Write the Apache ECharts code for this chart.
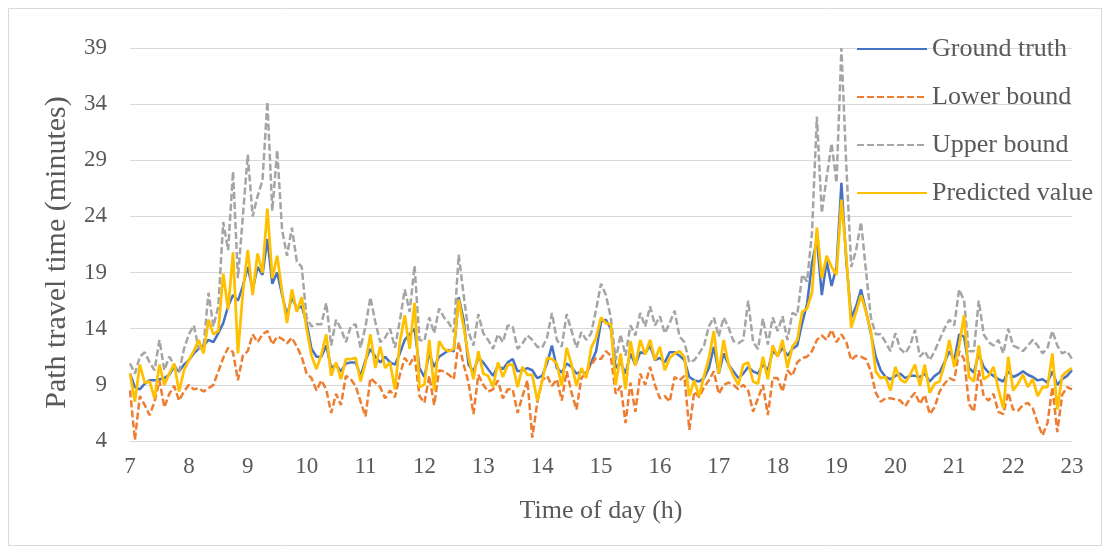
<!DOCTYPE html>
<html>
<head>
<meta charset="utf-8">
<title>Path travel time</title>
<script src="https://cdn.jsdelivr.net/npm/echarts@6/dist/echarts.min.js"></script>
<style>
  html, body { margin: 0; padding: 0; background: #fff; }
  #chart { width: 1110px; height: 554px; }
</style>
</head>
<body>
<div id="chart"></div>
<script>
// 5-minute samples from 7:00 to 23:00, one row per hour
const groundTruth = [
  10.0, 8.8, 8.6, 9.1, 9.4, 9.4, 9.5, 9.6, 9.9, 10.6, 10.2, 10.8,
  11.2, 11.8, 12.2, 12.5, 13.0, 12.8, 13.6, 14.5, 16.0, 17.0, 16.5, 17.8,
  19.5, 17.5, 19.5, 18.8, 22.0, 18.0, 19.0, 17.0, 15.2, 16.8, 15.8, 16.0,
  14.5, 12.2, 11.5, 11.5, 12.5, 10.5, 10.8, 10.2, 10.9, 11.0, 11.0, 9.8,
  11.2, 12.2, 11.5, 11.0, 11.5, 11.0, 10.8, 11.8, 13.0, 13.5, 14.0, 10.5,
  9.7, 11.8, 10.6, 11.5, 11.8, 12.1, 12.0, 16.8, 14.8, 10.8, 10.2, 11.4,
  11.0, 10.4, 9.8, 10.7, 10.4, 11.0, 11.3, 10.2, 10.3, 10.5, 10.3, 9.6,
  9.8, 10.9, 12.5, 10.5, 10.1, 10.9, 10.6, 10.0, 10.2, 10.0, 11.0, 12.0,
  14.6, 14.8, 14.0, 10.5, 11.0, 10.0, 11.8, 10.8, 11.9, 11.8, 12.5, 11.2,
  11.4, 11.0, 11.9, 11.9, 11.6, 11.2, 9.7, 9.4, 9.3, 9.6, 10.5, 12.4,
  10.0, 11.8, 10.8, 10.2, 9.6, 10.0, 10.6, 10.2, 10.0, 10.8, 10.3, 12.0,
  11.6, 12.3, 11.6, 12.2, 12.5, 14.5, 16.2, 19.8, 22.0, 17.0, 20.0, 17.8,
  19.5, 27.0, 20.0, 15.0, 16.0, 17.5, 15.6, 13.6, 11.5, 10.3, 9.7, 9.5,
  9.8, 10.0, 9.6, 9.8, 9.8, 9.7, 10.0, 9.3, 9.8, 10.1, 11.0, 12.0,
  11.2, 13.5, 13.3, 10.5, 10.1, 11.8, 10.6, 10.1, 9.8, 9.5, 9.3, 10.2,
  9.7, 9.9, 10.2, 9.9, 9.7, 9.4, 9.5, 9.2, 10.2, 9.0, 9.5, 9.8,
  10.3
];
const lowerBound = [
  8.5, 4.1, 8.0, 7.2, 6.3, 7.5, 9.4, 7.0, 8.2, 8.9, 7.6, 8.4,
  9.0, 8.6, 8.7, 8.4, 8.7, 9.0, 10.2, 11.4, 12.3, 11.9, 9.4, 11.6,
  12.0, 13.5, 12.8, 13.5, 13.8, 12.6, 13.3, 13.1, 12.7, 13.2, 12.4, 11.5,
  10.0, 9.6, 8.5, 9.4, 8.6, 6.5, 8.2, 7.2, 9.8, 9.5, 8.9, 7.5,
  6.2, 9.6, 9.2, 8.8, 7.8, 8.5, 7.9, 9.9, 11.4, 10.8, 11.6, 8.0,
  7.4, 9.8, 7.2, 10.3, 10.2, 9.9, 9.5, 12.8, 10.8, 9.2, 6.4, 9.9,
  9.0, 8.4, 8.6, 9.4, 7.8, 8.6, 8.6, 6.5, 8.0, 9.4, 4.3, 7.4,
  9.4, 9.8, 8.9, 9.5, 7.6, 10.2, 8.3, 6.8, 9.6, 10.1, 10.8, 11.4,
  11.3, 12.0, 11.6, 8.2, 8.9, 5.6, 9.2, 6.6, 10.0, 9.0, 10.6, 9.0,
  7.8, 8.0, 7.5, 9.7, 9.4, 9.8, 5.0, 8.4, 7.9, 8.8, 9.4, 10.2,
  8.2, 9.0, 9.2, 9.0, 8.6, 9.0, 8.5, 6.6, 7.8, 9.0, 6.3, 9.6,
  9.6, 8.4, 10.3, 9.8, 11.0, 11.4, 11.5, 12.0, 13.0, 13.4, 13.0, 13.9,
  12.8, 13.5, 12.8, 11.2, 11.6, 11.5, 11.3, 10.2, 8.3, 7.5, 7.8, 7.8,
  7.7, 7.6, 7.1, 7.8, 8.3, 7.3, 8.1, 6.4, 7.0, 8.4, 9.1, 9.6,
  9.4, 12.0, 11.3, 7.3, 6.6, 10.3, 8.0, 7.6, 8.2, 6.6, 6.4, 8.3,
  6.8, 6.7, 7.2, 7.4, 6.9, 5.6, 4.5, 5.6, 8.8, 4.8, 8.1, 8.8,
  8.6
];
const upperBound = [
  10.9, 10.0, 11.5, 11.9, 11.0, 10.3, 13.0, 10.3, 11.5, 10.8, 10.1, 12.2,
  13.5, 14.3, 12.2, 12.5, 17.2, 14.2, 16.0, 23.5, 21.0, 28.0, 18.5, 24.0,
  29.5, 24.0, 25.8, 27.2, 34.2, 24.5, 29.9, 22.8, 20.5, 23.0, 20.0, 19.5,
  15.0, 14.2, 14.4, 14.4, 16.3, 12.5, 14.8, 14.0, 12.8, 14.2, 14.4, 12.3,
  14.2, 16.8, 14.6, 12.8, 13.2, 14.0, 12.3, 14.7, 17.5, 15.5, 19.6, 13.0,
  12.9, 15.0, 13.6, 15.8, 15.0, 14.5, 13.7, 20.6, 17.0, 13.7, 12.5, 15.3,
  13.6, 13.0, 12.2, 13.5, 12.8, 14.3, 14.2, 12.2, 12.7, 13.4, 13.0, 12.4,
  12.3, 13.2, 15.4, 13.0, 12.4, 15.3, 13.8, 12.3, 13.7, 13.0, 13.6, 15.7,
  18.0, 17.0, 15.0, 11.2, 13.5, 11.6, 14.3, 13.4, 15.4, 14.2, 16.0, 14.3,
  15.1, 13.6, 14.5, 15.6, 13.3, 12.8, 11.0, 11.2, 11.8, 12.5, 14.2, 15.0,
  13.3, 15.0, 14.1, 12.9, 12.7, 13.0, 16.5, 12.8, 12.2, 14.9, 12.6, 15.0,
  13.8, 15.1, 13.0, 15.4, 15.2, 18.8, 18.2, 22.5, 32.9, 24.3, 27.5, 30.5,
  27.0, 39.0, 28.5, 19.5, 21.0, 23.5, 19.2, 15.0, 13.5, 13.5, 12.8, 12.0,
  13.6, 12.2, 11.8, 12.5, 13.9, 11.5, 12.0, 11.2, 12.0, 13.0, 14.0, 14.8,
  14.3, 17.5, 16.5, 12.0, 12.0, 16.5, 13.5, 12.8, 12.5, 13.0, 11.8, 14.0,
  12.5, 12.3, 12.0, 12.5, 13.0, 12.5, 11.8, 12.3, 13.8, 12.5, 11.8, 12.0,
  11.3
];
const predicted = [
  10.0, 7.5, 10.8, 9.2, 9.3, 7.8, 10.8, 9.0, 10.0, 10.9, 8.4, 10.3,
  11.2, 12.0, 13.0, 11.8, 14.8, 13.5, 13.8, 18.9, 15.7, 20.8, 11.8, 17.2,
  21.0, 17.0, 20.7, 19.0, 24.7, 18.5, 20.5, 17.3, 14.5, 17.5, 15.5, 16.8,
  14.0, 11.6, 10.4, 11.7, 13.5, 9.8, 11.0, 9.5, 11.3, 11.3, 11.4, 9.3,
  11.0, 13.5, 10.5, 12.4, 10.5, 11.0, 8.6, 12.8, 15.2, 12.2, 16.3, 8.8,
  9.0, 13.0, 8.5, 12.9, 12.2, 12.0, 12.2, 16.6, 14.2, 11.5, 9.5, 12.0,
  10.0, 9.8, 8.8, 11.0, 9.7, 10.8, 10.8, 8.8, 10.6, 9.9, 9.9, 7.6,
  9.3, 11.4, 11.3, 10.9, 8.9, 12.3, 10.8, 8.9, 10.5, 9.6, 12.3, 13.2,
  15.0, 14.5, 14.4, 9.0, 11.8, 8.6, 12.9, 10.7, 13.0, 11.7, 13.0, 11.2,
  12.4, 10.3, 11.4, 11.8, 12.0, 11.5, 8.0, 9.4, 8.0, 9.8, 11.4, 13.8,
  10.0, 13.0, 10.8, 9.8, 9.0, 10.8, 11.0, 9.3, 9.1, 11.5, 9.5, 12.5,
  11.5, 13.0, 10.5, 12.4, 13.0, 15.5, 15.8, 17.2, 23.0, 18.5, 20.5, 19.5,
  18.8, 25.5, 20.5, 14.1, 15.5, 17.0, 15.5, 13.8, 10.2, 9.6, 9.7, 8.5,
  10.6, 9.5, 9.2, 9.9, 10.8, 8.9, 10.8, 8.3, 9.1, 9.3, 10.8, 13.0,
  10.6, 12.5, 15.2, 9.7, 9.3, 12.5, 9.5, 9.8, 10.6, 8.6, 6.9, 11.5,
  8.5, 9.1, 9.9, 8.8, 9.5, 8.0, 8.8, 8.8, 11.8, 6.8, 9.8, 10.2,
  10.5
];

const startHour = 7;
const stepHours = 5 / 60;

// pair each value with its time of day
const withTime = (values) => values.map((v, i) => [startHour + i * stepHours, v]);

const chart = echarts.init(document.getElementById('chart'));

const serif = 'Liberation Serif';
const textColor = '#595959';

const option = {
  backgroundColor: '#fff',
  animation: false,
  graphic: [{
    type: 'rect',
    shape: { x: 8.5, y: 8.5, width: 1093, height: 537 },
    style: { fill: 'none', stroke: '#D9D9D9', lineWidth: 1 },
    silent: true
  }],
  grid: {
    left: 130,
    right: 38,
    top: 48,
    bottom: 113
  },
  legend: {
    orient: 'vertical',
    left: 851,
    top: 30,
    itemWidth: 70,
    itemHeight: 14,
    itemGap: 20,
    // hide the marker so only the line sample shows
    itemStyle: { opacity: 0 },
    textStyle: {
      fontFamily: serif,
      fontSize: 26,
      lineHeight: 28,
      color: textColor
    },
    data: ['Ground truth', 'Lower bound', 'Upper bound', 'Predicted value']
  },
  xAxis: {
    type: 'value',
    min: 7,
    max: 23,
    interval: 1,
    name: 'Time of day (h)',
    nameLocation: 'middle',
    nameGap: 57,
    nameTextStyle: { fontFamily: serif, fontSize: 26, color: textColor },
    axisLine: { show: true, lineStyle: { color: '#D9D9D9', width: 1 } },
    axisTick: { show: false },
    axisLabel: { fontFamily: serif, fontSize: 23, color: textColor, margin: 14 },
    splitLine: { show: false }
  },
  yAxis: {
    type: 'value',
    min: 4,
    max: 39,
    interval: 5,
    name: 'Path travel time (minutes)',
    nameLocation: 'middle',
    nameGap: 58,
    nameTextStyle: {
      fontFamily: serif,
      fontSize: 30,
      color: textColor,
      // nudge the rotated title slightly down
      padding: [0, 16, 0, 0]
    },
    axisLine: { show: false },
    axisTick: { show: false },
    axisLabel: { fontFamily: serif, fontSize: 23, color: textColor, margin: 23 },
    splitLine: { lineStyle: { color: '#D9D9D9', width: 1 } }
  },
  series: [
    {
      name: 'Ground truth',
      type: 'line',
      symbol: 'none',
      data: withTime(groundTruth),
      lineStyle: { color: '#4472C4', width: 2.5 },
      itemStyle: { color: '#4472C4' }
    },
    {
      name: 'Lower bound',
      type: 'line',
      symbol: 'none',
      data: withTime(lowerBound),
      lineStyle: { color: '#ED7D31', width: 2.5, type: [7, 3] },
      itemStyle: { color: '#ED7D31' }
    },
    {
      name: 'Upper bound',
      type: 'line',
      symbol: 'none',
      data: withTime(upperBound),
      lineStyle: { color: '#A5A5A5', width: 2.5, type: [7, 3] },
      itemStyle: { color: '#A5A5A5' }
    },
    {
      name: 'Predicted value',
      type: 'line',
      symbol: 'none',
      data: withTime(predicted),
      lineStyle: { color: '#FFC000', width: 2.75 },
      itemStyle: { color: '#FFC000' }
    }
  ]
};

chart.setOption(option);

window.addEventListener('resize', () => chart.resize());
</script>
</body>
</html>
